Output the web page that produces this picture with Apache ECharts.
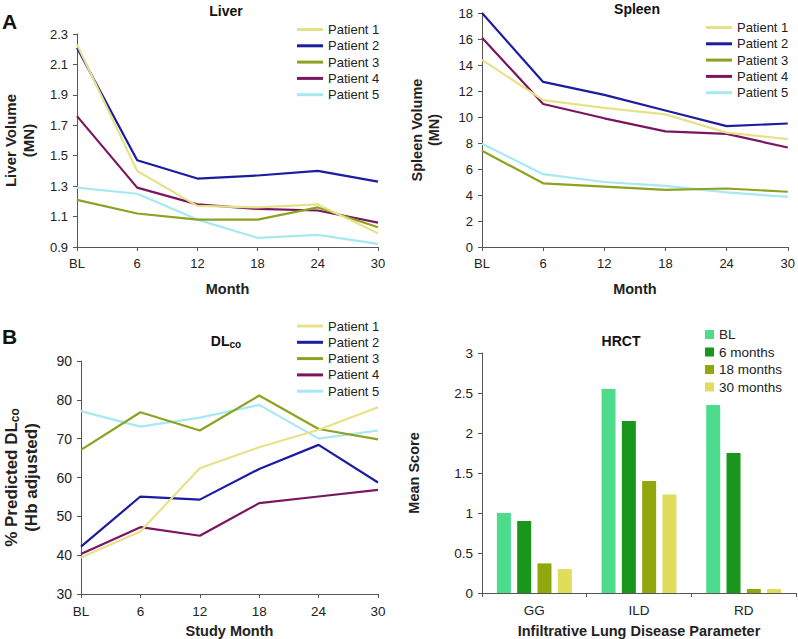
<!DOCTYPE html>
<html>
<head>
<meta charset="utf-8">
<script src="https://cdn.jsdelivr.net/npm/echarts@6/dist/echarts.min.js"></script>
<style>html,body{margin:0;padding:0;background:#fff}#c{width:798px;height:639px}</style>
</head>
<body>
<div id="c"></div>
<script>
const months = ['BL', '6', '12', '18', '24', '30'];
const patients = ['Patient 1', 'Patient 2', 'Patient 3', 'Patient 4', 'Patient 5'];

const liverP1 = [2.23, 1.40, 1.17, 1.16, 1.18, 0.99];
const liverP2 = [2.21, 1.47, 1.35, 1.37, 1.40, 1.33];
const liverP3 = [1.21, 1.12, 1.08, 1.08, 1.16, 1.03];
const liverP4 = [1.76, 1.29, 1.18, 1.15, 1.14, 1.06];
const liverP5 = [1.29, 1.25, 1.08, 0.96, 0.98, 0.92];

const spleenP1 = [14.4, 11.3, 10.7, 10.2, 8.8, 8.3];
const spleenP2 = [18.0, 12.7, 11.7, 10.5, 9.3, 9.5];
const spleenP3 = [7.4, 4.9, 4.65, 4.4, 4.5, 4.25];
const spleenP4 = [16.1, 11.0, 9.9, 8.9, 8.7, 7.65];
const spleenP5 = [7.95, 5.6, 5.0, 4.7, 4.2, 3.85];

const dlcoP1 = [39.4, 46.1, 62.4, 67.8, 72.3, 78.1];
const dlcoP2 = [42.2, 55.1, 54.3, 62.2, 68.4, 58.7];
const dlcoP3 = [67.1, 76.8, 72.1, 81.1, 72.5, 69.8];
const dlcoP4 = [40.3, 47.2, 45.0, 53.4, 55.1, 56.8];
const dlcoP5 = [77.1, 73.1, 75.4, 78.7, 70.0, 72.1];

const hrctCats = ['GG', 'ILD', 'RD'];
const hrctSeries = ['BL', '6 months', '18 months', '30 months'];
const hrctBL = [1.0, 2.55, 2.35];
const hrct6 = [0.9, 2.15, 1.75];
const hrct18 = [0.37, 1.4, 0.05];
const hrct30 = [0.3, 1.23, 0.05];

const liverTicks = [0.9, 2.3, 0.2];
const spleenTicks = [0, 18, 2];
const dlcoTicks = [30, 90, 10];
const hrctTicks = [0, 3, 0.5];

const lineColors = ['#e6e28a', '#1c1ca0', '#8ca220', '#7a1660', '#a6e9f2'];
const barColors = ['#4ddb8c', '#1a961c', '#90a80e', '#e0dc5c'];
const FONT = "'Liberation Sans', Arial, sans-serif";

const chart = echarts.init(document.getElementById('c'), null, {renderer: 'svg'});

const grids = [
  {left: 73, top: 34, width: 305, height: 213},
  {left: 482, top: 13, width: 306, height: 234},
  {left: 73, top: 361, width: 305, height: 233},
  {left: 482, top: 353, width: 314, height: 241}
];

const axisLineStyle = {color: '#555', width: 1};
function xCat(gi, name, gap, data, boundary, fs) {
  return {
    type: 'category', gridIndex: gi, data: data, boundaryGap: boundary,
    name: name, nameLocation: 'middle', nameGap: gap,
    nameTextStyle: {fontFamily: FONT, fontWeight: 'bold', fontSize: 14.5, color: '#222'},
    axisLine: {lineStyle: axisLineStyle},
    axisTick: {show: true, length: 4, lineStyle: axisLineStyle, alignWithLabel: !boundary},
    axisLabel: {fontFamily: FONT, fontSize: fs || 13, color: '#222', margin: 10, interval: 0}
  };
}
function yVal(gi, name, gap, t, fmt, nameSize, fs, rich) {
  const ax = {
    type: 'value', gridIndex: gi, min: t[0], max: t[1], interval: t[2],
    name: name, nameLocation: 'middle', nameGap: gap,
    nameTextStyle: {fontFamily: FONT, fontWeight: 'bold', fontSize: nameSize, color: '#222', lineHeight: nameSize + 3},
    axisLine: {show: true, lineStyle: axisLineStyle},
    axisTick: {show: true, length: 4, lineStyle: axisLineStyle},
    splitLine: {show: false},
    axisLabel: {fontFamily: FONT, fontSize: fs || 13, color: '#222', margin: 9, formatter: fmt}
  };
  if (rich) ax.nameTextStyle.rich = rich;
  return ax;
}

const subRich = {
  sub: {fontFamily: FONT, fontWeight: 'bold', fontSize: 12, color: '#222', lineHeight: 20, padding: [7, 0, 0, 0]}
};

function lineSeries(arrs, xi) {
  return arrs.map((d, i) => ({
    type: 'line', name: patients[i], xAxisIndex: xi, yAxisIndex: xi, data: d,
    symbol: 'none', lineStyle: {width: 2.2, color: lineColors[i]}, itemStyle: {color: lineColors[i]},
    z: 10 - i
  }));
}

function lineLegend(left, top) {
  return {
    orient: 'vertical', left: left, top: top, padding: 0, data: patients, icon: 'rect',
    itemWidth: 26, itemHeight: 3, itemGap: 3.3, selectedMode: false,
    textStyle: {fontFamily: FONT, fontSize: 13, color: '#222'}
  };
}

const series = [].concat(
  lineSeries([liverP1, liverP2, liverP3, liverP4, liverP5], 0),
  lineSeries([spleenP1, spleenP2, spleenP3, spleenP4, spleenP5], 1),
  lineSeries([dlcoP1, dlcoP2, dlcoP3, dlcoP4, dlcoP5], 2),
  [hrctBL, hrct6, hrct18, hrct30].map((d, i) => ({
    type: 'bar', name: hrctSeries[i], xAxisIndex: 3, yAxisIndex: 3, data: d,
    barWidth: 14, barGap: '45%', itemStyle: {color: barColors[i]}
  }))
);

function t(x, y, text, size, extra) {
  return {type: 'text', x: x, y: y, style: Object.assign({
    text: text, fontFamily: FONT, fontWeight: 'bold', fontSize: size, fill: '#111',
    textAlign: 'center', textVerticalAlign: 'middle'}, extra || {})};
}

chart.setOption({
  animation: false,
  grid: grids,
  xAxis: [
    xCat(0, 'Month', 34, months, false),
    xCat(1, 'Month', 34, months, false),
    xCat(2, 'Study Month', 29, months, false, 13.5),
    xCat(3, 'Infiltrative Lung Disease Parameter', 30, hrctCats, true, 13.5)
  ],
  yAxis: [
    yVal(0, 'Liver Volume\n(MN)', 40, liverTicks, v => v.toFixed(1), 15),
    yVal(1, 'Spleen Volume\n(MN)', 39, spleenTicks, null, 14.5),
    yVal(2, '% Predicted DL{sub|co}\n(Hb adjusted)', 40, dlcoTicks, null, 17, 14, subRich),
    yVal(3, 'Mean Score', 59, hrctTicks, null, 14.5, 13.5)
  ],
  legend: [
    lineLegend(297, 23),
    lineLegend(706, 21),
    lineLegend(297, 319.5),
    {
      orient: 'vertical', left: 705, top: 327.5, padding: 0, data: hrctSeries, icon: 'rect',
      itemWidth: 9, itemHeight: 9, itemGap: 3.5, selectedMode: false,
      textStyle: {fontFamily: FONT, fontSize: 13.5, color: '#222'}
    }
  ],
  graphic: [
    t(2, 21, 'A', 21, {textAlign: 'left'}),
    t(2, 336, 'B', 21, {textAlign: 'left'}),
    t(226, 11, 'Liver', 14),
    t(637, 9, 'Spleen', 14),
    t(226, 341, 'DL{sub|co}', 14, {rich: {sub: {fontFamily: FONT, fontWeight: 'bold', fontSize: 10, fill: '#111', padding: [7, 0, 0, 0]}}}),
    t(621, 341, 'HRCT', 14)
  ],
  series: series
});
</script>
</body>
</html>
